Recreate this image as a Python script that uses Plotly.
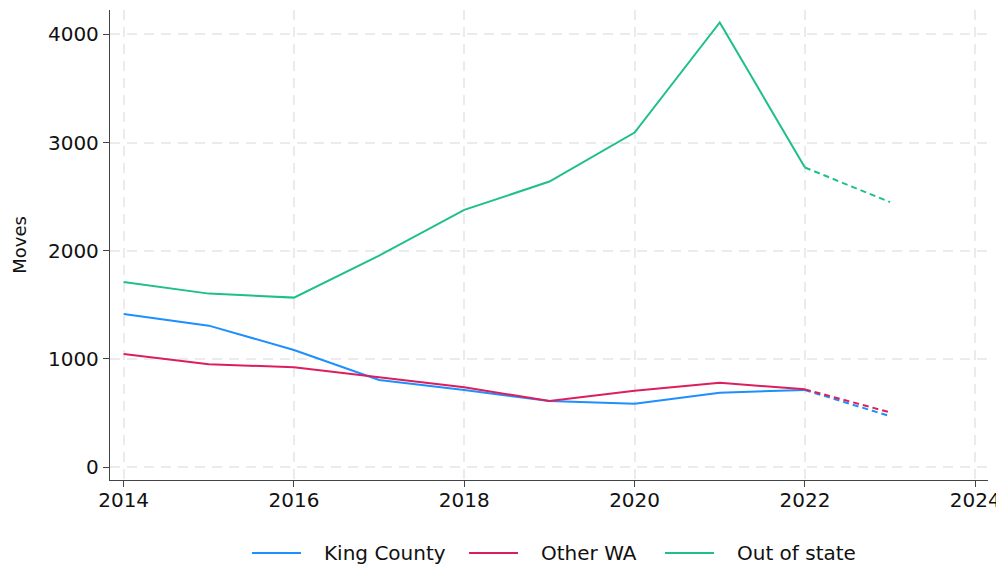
import plotly.graph_objects as go

years = [2014, 2015, 2016, 2017, 2018, 2019, 2020, 2021, 2022, 2023]
king_county = [1415, 1307, 1082, 805, 712, 610, 585, 687, 712, 470]
other_wa = [1045, 950, 922, 830, 737, 610, 706, 780, 718, 505]
out_of_state = [1711, 1603, 1566, 1955, 2377, 2639, 3092, 4110, 2769, 2449]

names = ["King County", "Other WA", "Out of state"]
colors = ["#1e8fff", "#dc1f5c", "#1fc087"]
values = [king_county, other_wa, out_of_state]

fig = go.Figure()
for name, vals, color in zip(names, values, colors):
    fig.add_trace(go.Scatter(
        x=years[:-1], y=vals[:-1], mode="lines", name=name, showlegend=False,
        line=dict(color=color, width=2), hoverinfo="skip"))
for name, vals, color in zip(names, values, colors):
    fig.add_trace(go.Scatter(
        x=years[-2:], y=vals[-2:], mode="lines", name=name, showlegend=False,
        line=dict(color=color, width=2, dash="6px,4px"), hoverinfo="skip"))

# legend below the plot: short line sample followed by the label (paper coordinates)
legend_x = [0.1617, 0.4089, 0.6321]
legend_y = -0.1553
sample_len = 0.0558
text_gap = 0.024
for x0, name, color in zip(legend_x, names, colors):
    fig.add_shape(type="line", xref="paper", yref="paper",
                  x0=x0, x1=x0 + sample_len, y0=legend_y, y1=legend_y,
                  line=dict(color=color, width=2))
    fig.add_annotation(xref="paper", yref="paper", x=x0 + sample_len + text_gap, y=legend_y,
                       text=name, showarrow=False, xanchor="left", yanchor="middle",
                       font=dict(size=20, color="#111"))

axis_common = dict(
    showline=True, linecolor="#444", linewidth=1.3,
    ticks="outside", tickcolor="#444", ticklen=6, tickwidth=1.3,
    showgrid=True, gridcolor="#ebebeb", griddash="10px,7px", gridwidth=1.5,
    zeroline=False, tickfont=dict(family="DejaVu Sans", size=20, color="#111"),
)

# page body has an 8px margin, so the figure is sized to fit the 1004x571 window
fig.update_layout(
    width=996, height=563,
    margin=dict(l=102, r=16, t=2, b=91, autoexpand=False),
    paper_bgcolor="white", plot_bgcolor="white",
    font=dict(family="DejaVu Sans", size=20, color="#111"),
    showlegend=False,
    xaxis=dict(range=[2013.84, 2024.15], tickvals=[2014, 2016, 2018, 2020, 2022, 2024],
               ticklabelstandoff=-4, **axis_common),
    yaxis=dict(range=[-120, 4225], tickvals=[0, 1000, 2000, 3000, 4000],
               title=dict(text="Moves", font=dict(size=18), standoff=16), **axis_common),
)

fig.write_html("out.html")
